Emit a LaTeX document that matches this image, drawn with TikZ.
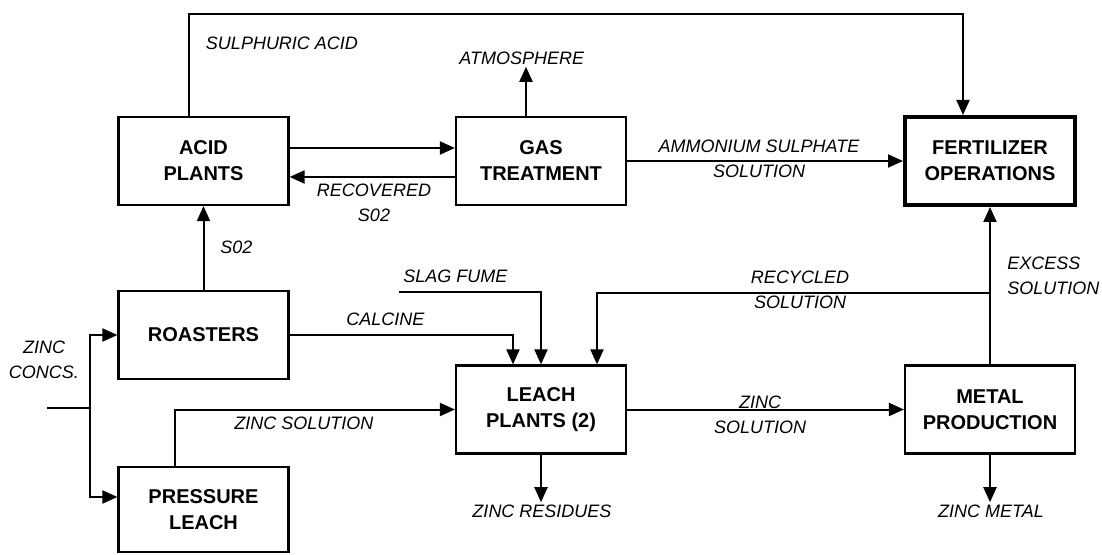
\documentclass[tikz,border=0pt]{standalone}
\usepackage{fontspec}
\setmainfont{Liberation Sans}
\usetikzlibrary{arrows.meta}

\begin{document}
\begin{tikzpicture}[x=0.5pt, y=-0.5pt,
  box/.style={draw, line width=1.1pt, minimum width=85pt, minimum height=44pt, inner sep=0pt,
    align=center, font=\fontsize{10}{13}\selectfont\bfseries},
  lbl/.style={inner sep=1pt, align=center, font=\fontsize{9}{12.5}\selectfont\itshape},
  flow/.style={line width=1pt, -{Triangle[length=7.5pt,width=6.5pt]}}]
  \useasboundingbox (0,0) rectangle (1102,555);
  % process boxes
  \node[box] (acid) at (203.5,161) {ACID\\PLANTS};
  \node[box] (gas) at (541,161) {GAS\\TREATMENT};
  \node[box, line width=2pt] (fert) at (990,161) {FERTILIZER\\OPERATIONS};
  \node[box] (roast) at (203.5,335) {ROASTERS};
  \node[box, minimum height=42.5pt] (press) at (203.5,509.5) {PRESSURE\\LEACH};
  \node[box] (leach) at (541,409.5) {LEACH\\PLANTS (2)};
  \node[box] (metal) at (990,409.5) {METAL\\PRODUCTION};
  % stream labels
  \node[lbl] (sa) at (282,43) {SULPHURIC ACID};
  \node[lbl, anchor=west] (atm) at (457,58) {ATMOSPHERE};
  \node[lbl] (rso) at (374,203) {RECOVERED\\S02};
  \node[lbl, anchor=west] (so) at (218,247) {S02};
  \node[lbl] (ams) at (759,159) {AMMONIUM SULPHATE\\SOLUTION};
  \node[lbl, anchor=west, align=left] (exc) at (1005,275.5) {EXCESS\\SOLUTION};
  \node[lbl] (rcy) at (800,290) {RECYCLED\\SOLUTION};
  \node[lbl, anchor=west] (slg) at (401,276) {SLAG FUME};
  \node[lbl, anchor=west] (cal) at (344,319) {CALCINE};
  \node[lbl] (zc) at (44,360) {ZINC\\CONCS.};
  \node[lbl, anchor=west] (zsp) at (232,423) {ZINC SOLUTION};
  \node[lbl] (zsl) at (760,414.5) {ZINC\\SOLUTION};
  \node[lbl] (res) at (542,511) {ZINC RESIDUES};
  \node[lbl] (zm) at (991,511) {ZINC METAL};
  % free ends and bends
  \coordinate (acidup) at (189,14);
  \coordinate (fertup) at (963,14);
  \coordinate (feed) at (47,408);
  \coordinate (split) at (90,408);
  \coordinate (slag) at (399,292);
  \coordinate (rec) at (990,293);
  % streams
  \draw[flow] (acid.north -| acidup) -- (acidup) -- (fertup) -- (fert.north -| fertup);
  \draw[flow] ([yshift=6.5pt]acid.east) -- ([yshift=6.5pt]gas.west);
  \draw[flow] ([yshift=-8pt]gas.west) -- ([yshift=-8pt]acid.east);
  \draw[flow] ([xshift=-7.5pt]gas.north) -- ([xshift=-7.5pt]gas.north |- atm.south);
  \draw[flow] (gas) -- (fert);
  \draw[flow] (roast) -- (acid);
  \draw[line width=1pt] (feed) -- (split);
  \draw[flow] (split) |- (roast.west);
  \draw[flow] (split) |- ([yshift=6.25pt]press.west);
  \draw[flow] (roast.east) -| ([xshift=-14pt]leach.north);
  \draw[flow] (slag) -| (leach.north);
  \draw[flow] ([xshift=-14.25pt]press.north) |- (leach.west);
  \draw[flow] (leach) -- (metal);
  \draw[flow] (leach.south) -- (leach.south |- res.north);
  \draw[flow] (metal) -- (fert);
  \draw[flow] (rec) -| ([xshift=28pt]leach.north);
  \draw[flow] (metal.south) -- (metal.south |- zm.north);
\end{tikzpicture}
\end{document}
